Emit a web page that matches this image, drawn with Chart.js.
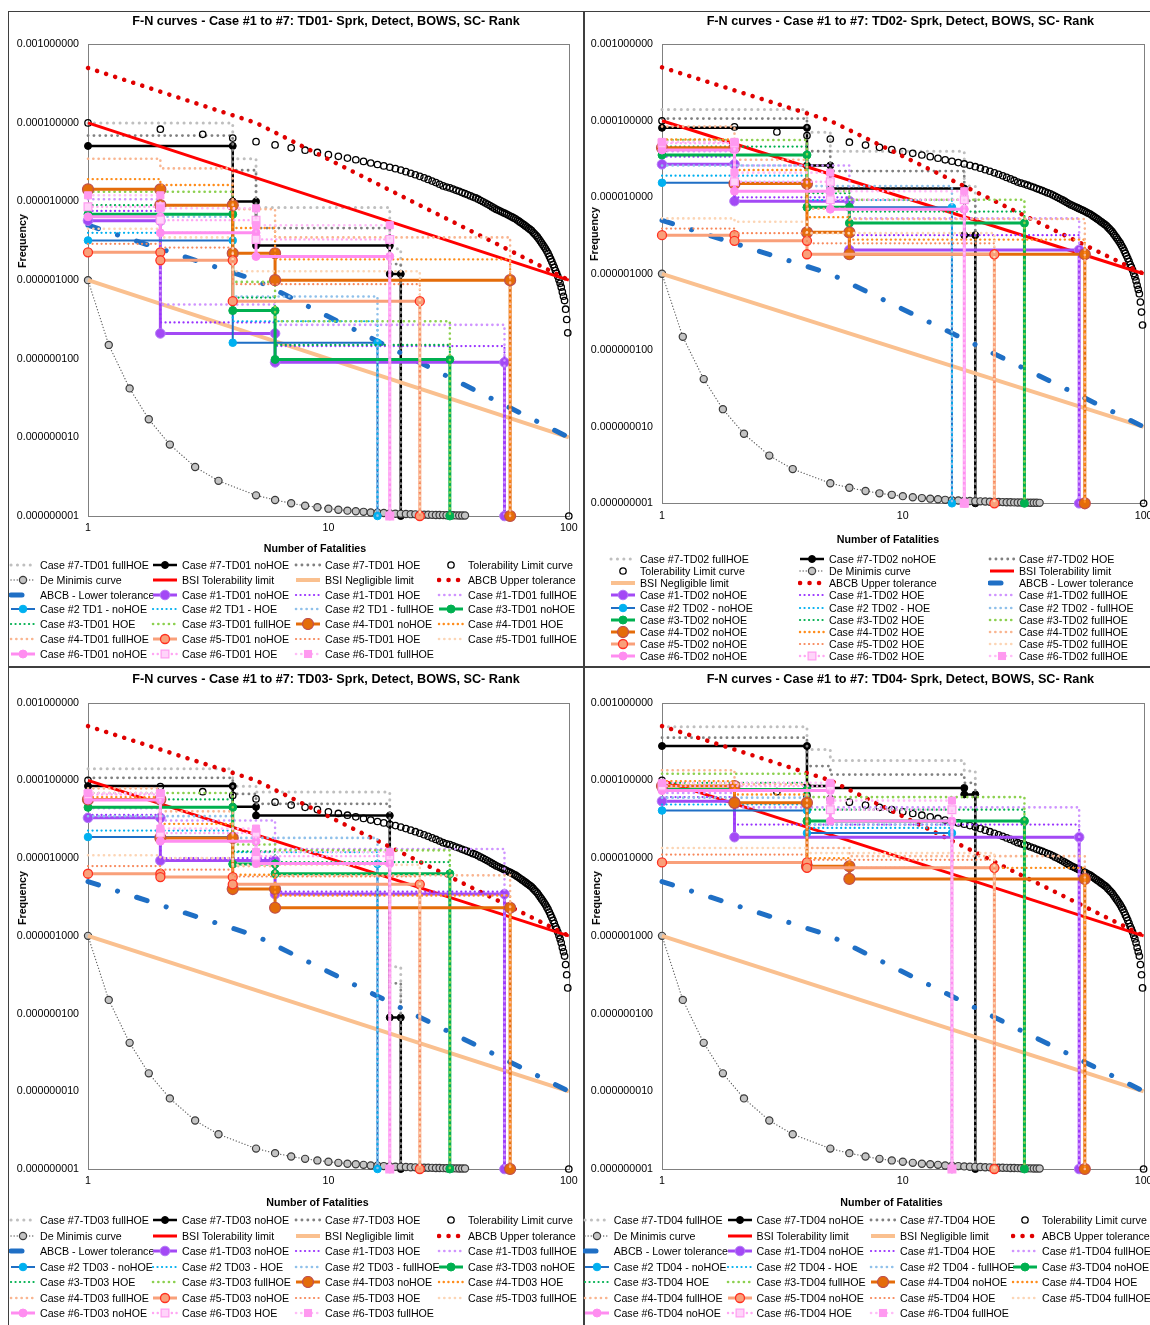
<!DOCTYPE html>
<html>
<head>
<meta charset="utf-8">
<title>F-N curves - Case #1 to #7</title>
<script src="https://cdn.jsdelivr.net/npm/chart.js@4.4.1/dist/chart.umd.min.js"></script>
<style>
  html, body { margin: 0; padding: 0; background: #fff; overflow: hidden; }
  body { position: relative; width: 1150px; height: 1325px; font-family: "Liberation Sans", Arial, sans-serif; color: #000; }
  .frame { position: absolute; border: 1px solid #3f3f3f; box-sizing: border-box; }
  canvas { position: absolute; }
  .txt { position: absolute; white-space: nowrap; transform: translate(-50%, -50%); }
  .title { font-size: 12.67px; font-weight: bold; }
  .axt { font-size: 10.67px; font-weight: bold; }
  .yt { transform: translate(-50%, -50%) rotate(-90deg); }
  .leg { position: absolute; height: 12px; line-height: 12px; font-size: 10.67px; white-space: nowrap; display: flex; align-items: center; }
  .leg svg { flex: none; margin-right: 3px; }
</style>
</head>
<body>
<script>
// ---- axes ----
const FLOOR = 1e-9;
const xTickValues = [1, 10, 100];
const yTickValues = [1e-9, 1e-8, 1e-7, 1e-6, 1e-5, 1e-4, 1e-3];

// ---- reference curves (same on all four charts) ----
const tolN = [1,2,3,4,5,6,7,8,9,10,11,12,13,14,15,16,17,18,19,20,21,22,23,24,25,26,27,28,29,30,
  31,32,33,34,35,36,37,38,39,40,41,42,43,44,45,46,47,48,49,50,51,52,53,54,55,56,57,58,59,60,
  61,62,63,64,65,66,67,68,69,70,71,72,73,74,75,76,77,78,79,80,81,82,83,84,85,86,87,88,89,90,
  91,92,93,94,95,96,97,98,99,100];
const tolF = [1.00e-4, 8.32e-5, 7.16e-5, 6.41e-5, 5.78e-5, 5.25e-5, 4.82e-5, 4.50e-5, 4.21e-5, 3.95e-5,
  3.76e-5, 3.57e-5, 3.40e-5, 3.24e-5, 3.09e-5, 2.96e-5, 2.84e-5, 2.73e-5, 2.62e-5, 2.51e-5,
  2.40e-5, 2.29e-5, 2.19e-5, 2.09e-5, 2.00e-5, 1.91e-5, 1.82e-5, 1.74e-5, 1.66e-5, 1.58e-5,
  1.53e-5, 1.49e-5, 1.44e-5, 1.39e-5, 1.35e-5, 1.30e-5, 1.26e-5, 1.22e-5, 1.18e-5, 1.14e-5,
  1.11e-5, 1.07e-5, 1.03e-5, 9.93e-6, 9.57e-6, 9.23e-6, 8.89e-6, 8.55e-6, 8.24e-6, 7.94e-6,
  7.73e-6, 7.52e-6, 7.31e-6, 7.11e-6, 6.92e-6, 6.73e-6, 6.55e-6, 6.37e-6, 6.19e-6, 6.03e-6,
  5.82e-6, 5.62e-6, 5.43e-6, 5.25e-6, 5.07e-6, 4.90e-6, 4.73e-6, 4.57e-6, 4.42e-6, 4.27e-6,
  4.07e-6, 3.89e-6, 3.72e-6, 3.55e-6, 3.35e-6, 3.16e-6, 2.99e-6, 2.82e-6, 2.66e-6, 2.51e-6,
  2.34e-6, 2.19e-6, 2.02e-6, 1.86e-6, 1.72e-6, 1.58e-6, 1.45e-6, 1.32e-6, 1.22e-6, 1.12e-6,
  1.01e-6, 9.12e-7, 8.13e-7, 7.08e-7, 6.24e-7, 5.50e-7, 4.27e-7, 3.16e-7, 2.14e-7, 1.0e-9];
const deMinN = [1, 1.22, 1.49, 1.79, 2.19, 2.79, 3.49, 5, 6, 7, 8, 9, 10, 11, 12, 13, 14, 15, 16, 17,
  18, 19, 20, 21, 22, 23, 24, 25, 26, 27, 28, 29, 30, 31, 32, 33, 34, 35, 36, 37];
const deMinF = [1e-6, 1.5e-7, 4.2e-8, 1.7e-8, 8.1e-9, 4.2e-9, 2.8e-9, 1.83e-9, 1.6e-9, 1.45e-9,
  1.35e-9, 1.29e-9, 1.24e-9, 1.2e-9, 1.17e-9, 1.15e-9, 1.13e-9, 1.11e-9, 1.10e-9, 1.09e-9,
  1.08e-9, 1.07e-9, 1.065e-9, 1.06e-9, 1.055e-9, 1.05e-9, 1.045e-9, 1.04e-9, 1.037e-9, 1.034e-9,
  1.031e-9, 1.028e-9, 1.026e-9, 1.024e-9, 1.022e-9, 1.02e-9, 1.018e-9, 1.016e-9, 1.015e-9, 1.013e-9];
const bsiTolN = [1, 100];
const bsiTolF = [1e-4, 1e-6];
const bsiNegN = [1, 100];
const bsiNegF = [1e-6, 1e-8];
const abcbUpN = [1, 5, 100];
const abcbUpF = [5e-4, 1e-4, 1e-6];
const abcbLowN = [1, 5, 100];
const abcbLowF = [5e-6, 1e-6, 1e-8];

// ---- step curves: *_N = fatality break points, other arrays = frequency of each step ----
// TD01
const td01_c7_N = [1, 4, 5, 18, 20];
const td01_c7_full = [1.0e-4, 3.5e-5, 8.4e-6, 2.5e-6];
const td01_c7_no = [5.1e-5, 1.0e-5, 2.75e-6, 1.2e-6];
const td01_c7_hoe = [6.9e-5, 2.5e-5, 4.6e-6, 1.6e-6];
const td01_c1_N = [1, 2, 6, 54];
const td01_c1_no = [5.7e-6, 2.1e-7, 9.0e-8];
const td01_c1_hoe = [7.6e-6, 2.9e-7, 1.45e-7];
const td01_c1_full = [1.07e-5, 4.9e-7, 2.7e-7];
const td01_c2_N = [1, 4, 16];
const td01_c2_no = [3.2e-6, 1.6e-7];
const td01_c2_hoe = [4.0e-6, 3.0e-7];
const td01_c2_full = [6.4e-6, 6.2e-7];
const td01_c3_N = [1, 4, 6, 32];
const td01_c3_no = [6.9e-6, 4.1e-7, 9.8e-8];
const td01_c3_hoe = [9.0e-6, 6.0e-7, 1.5e-7];
const td01_c3_full = [1.33e-5, 9.5e-7, 3.0e-7];
const td01_c4_N = [1, 2, 4, 6, 57];
const td01_c4_no = [1.43e-5, 9.0e-6, 2.2e-6, 1.0e-6];
const td01_c4_hoe = [1.93e-5, 1.62e-5, 4.6e-6, 1.84e-6];
const td01_c4_full = [3.5e-5, 2.64e-5, 8.0e-6, 3.5e-6];
const td01_c5_N = [1, 2, 4, 24];
const td01_c5_no = [2.26e-6, 1.79e-6, 5.4e-7];
const td01_c5_hoe = [2.9e-6, 2.6e-6, 8.9e-7];
const td01_c5_full = [4.5e-6, 3.5e-6, 1.3e-6];
const td01_c6_N = [1, 2, 5, 18];
const td01_c6_no = [6.4e-6, 4.0e-6, 2.0e-6];
const td01_c6_hoe = [8.6e-6, 5.8e-6, 3.3e-6];
const td01_c6_full = [1.2e-5, 8.2e-6, 5.0e-6];
// TD02
const td02_c7_N = [1, 4, 5, 18, 20];
const td02_c7_full = [1.41e-4, 7.1e-5, 4.0e-5, 1.4e-5];
const td02_c7_no = [8.1e-5, 2.6e-5, 1.3e-5, 3.2e-6];
const td02_c7_hoe = [1.07e-4, 4.0e-5, 2.2e-5, 9.0e-6];
const td02_c1_N = [1, 2, 6, 54];
const td02_c1_no = [2.7e-5, 8.9e-6, 2.05e-6];
const td02_c1_hoe = [3.4e-5, 1.0e-5, 3.2e-6];
const td02_c1_full = [4.0e-5, 2.6e-5, 5.3e-6];
const td02_c2_N = [1, 4, 16];
const td02_c2_no = [1.55e-5, 7.4e-6];
const td02_c2_hoe = [1.92e-5, 9.2e-6];
const td02_c2_full = [2.6e-5, 1.4e-5];
const td02_c3_N = [1, 4, 6, 32];
const td02_c3_no = [3.57e-5, 7.4e-6, 4.6e-6];
const td02_c3_hoe = [4.6e-5, 1.13e-5, 6.5e-6];
const td02_c3_full = [5.6e-5, 1.2e-5, 9.3e-6];
const td02_c4_N = [1, 2, 4, 6, 57];
const td02_c4_no = [4.45e-5, 1.51e-5, 3.48e-6, 1.8e-6];
const td02_c4_hoe = [5.7e-5, 2.27e-5, 5.5e-6, 2.8e-6];
const td02_c4_full = [8.4e-5, 3.1e-5, 7.1e-6, 5.2e-6];
const td02_c5_N = [1, 2, 4, 24];
const td02_c5_no = [3.2e-6, 2.7e-6, 1.8e-6];
const td02_c5_hoe = [3.9e-6, 3.4e-6, 2.5e-6];
const td02_c5_full = [5.3e-6, 4.8e-6, 3.4e-6];
const td02_c6_N = [1, 2, 5, 18];
const td02_c6_no = [4.15e-5, 1.2e-5, 7.0e-6];
const td02_c6_hoe = [5.1e-5, 1.6e-5, 9.3e-6];
const td02_c6_full = [5.3e-5, 2.1e-5, 1.2e-5];
// TD03
const td03_c7_N = [1, 4, 5, 18, 20];
const td03_c7_full = [1.41e-4, 8.4e-5, 7.1e-5, 4.0e-7];
const td03_c7_no = [8.45e-5, 4.57e-5, 3.53e-5, 8.9e-8];
const td03_c7_hoe = [1.08e-4, 6.7e-5, 5.0e-5, 2.45e-7];
const td03_c1_N = [1, 2, 6, 54];
const td03_c1_no = [3.3e-5, 9.3e-6, 3.45e-6];
const td03_c1_hoe = [3.6e-5, 1.0e-5, 3.7e-6];
const td03_c1_full = [4.4e-5, 3.05e-5, 1.31e-5];
const td03_c2_N = [1, 4, 16];
const td03_c2_no = [1.87e-5, 8.4e-6];
const td03_c2_hoe = [2.26e-5, 1.19e-5];
const td03_c2_full = [3.47e-5, 1.82e-5];
const td03_c3_N = [1, 4, 6, 32];
const td03_c3_no = [4.5e-5, 8.4e-6, 6.3e-6];
const td03_c3_hoe = [5.7e-5, 1.22e-5, 8.9e-6];
const td03_c3_full = [6.9e-5, 1.5e-5, 1.26e-5];
const td03_c4_N = [1, 2, 4, 6, 57];
const td03_c4_no = [5.7e-5, 1.82e-5, 4.0e-6, 2.3e-6];
const td03_c4_hoe = [6.1e-5, 2.76e-5, 6.1e-6, 3.3e-6];
const td03_c4_full = [7.9e-5, 4.0e-5, 7.9e-6, 6.0e-6];
const td03_c5_N = [1, 2, 4, 24];
const td03_c5_no = [6.3e-6, 5.7e-6, 4.6e-6];
const td03_c5_hoe = [7.9e-6, 7.1e-6, 5.8e-6];
const td03_c5_full = [1.09e-5, 1.0e-5, 8.2e-6];
const td03_c6_N = [1, 2, 5, 18];
const td03_c6_no = [5.6e-5, 1.65e-5, 8.5e-6];
const td03_c6_hoe = [6.6e-5, 2.1e-5, 1.06e-5];
const td03_c6_full = [6.9e-5, 2.4e-5, 1.2e-5];
// TD04
const td04_c7_N = [1, 4, 5, 18, 20];
const td04_c7_full = [4.9e-4, 2.5e-4, 1.81e-4, 1.32e-4];
const td04_c7_no = [2.77e-4, 8.45e-5, 8.0e-5, 6.6e-5];
const td04_c7_hoe = [3.55e-4, 1.53e-4, 1.19e-4, 9.3e-5];
const td04_c1_N = [1, 2, 54];
const td04_c1_no = [5.4e-5, 1.86e-5];
const td04_c1_hoe = [6.1e-5, 2.7e-5];
const td04_c1_full = [6.9e-5, 4.5e-5];
const td04_c2_N = [1, 4, 16];
const td04_c2_no = [4.1e-5, 2.1e-5];
const td04_c2_hoe = [4.9e-5, 2.45e-5];
const td04_c2_full = [6.0e-5, 2.7e-5];
const td04_c3_N = [1, 4, 32];
const td04_c3_no = [7.65e-5, 3.0e-5];
const td04_c3_hoe = [9.3e-5, 4.2e-5];
const td04_c3_full = [1.22e-4, 6.1e-5];
const td04_c4_N = [1, 2, 4, 6, 57];
const td04_c4_no = [8.45e-5, 5.15e-5, 7.85e-6, 5.4e-6];
const td04_c4_hoe = [9.8e-5, 6.6e-5, 1.0e-5, 7.5e-6];
const td04_c4_full = [1.35e-4, 8.9e-5, 1.35e-5, 1.06e-5];
const td04_c5_N = [1, 4, 24];
const td04_c5_no = [8.8e-6, 7.5e-6];
const td04_c5_hoe = [1.11e-5, 9.5e-6];
const td04_c5_full = [1.35e-5, 1.16e-5];
const td04_c6_N = [1, 5, 16];
const td04_c6_no = [7.4e-5, 3.0e-5];
const td04_c6_hoe = [8.45e-5, 4.2e-5];
const td04_c6_full = [9.3e-5, 5.5e-5];

// ---- series styles, in legend order ----
const solid = (color, width, point) => ({ color, width, dash: [], cap: 'butt', point });
const dots = (color, width, gap, point) => ({ color, width, dash: [0.1, gap], cap: 'round', point });

const styles = [
  dots('#BFBFBF', 3, 6.3),
  solid('#000000', 2.5, { r: 3.5, bg: '#000', bc: '#000', bw: 1 }),
  dots('#808080', 2.8, 5.8),
  { color: '#000', width: 0, noLine: true, dash: [], cap: 'butt', point: { r: 3.2, bg: 'rgba(255,255,255,0)', bc: '#000', bw: 1.3 } },
  { color: '#606060', width: 1.3, dash: [0.1, 3], cap: 'round', point: { r: 3.6, bg: '#c4c4c4', bc: '#3a3a3a', bw: 1.2 } },
  solid('#FF0000', 3),
  solid('#FAC08F', 4),
  dots('#E00000', 4.5, 9.4),
  { color: '#1F6FC5', width: 5, dash: [11, 20, 0.1, 20], cap: 'round' },
  solid('#A349F5', 3, { r: 4.8, bg: '#A349F5', bc: '#B27AF5', bw: 1 }),
  dots('#9933FF', 2.2, 4.4),
  dots('#CF94FF', 2.6, 5.2),
  solid('#1F6FC5', 2, { r: 3.8, bg: '#00B0F0', bc: '#00B0F0', bw: 1 }),
  dots('#00B0F0', 2.2, 4.4),
  dots('#8FC0EA', 2.6, 5.2),
  solid('#00B050', 3, { r: 4, bg: '#00B050', bc: '#00B050', bw: 1 }),
  dots('#00B050', 2.2, 4.4),
  dots('#8CD04F', 2.6, 5.2),
  solid('#E46C0A', 3, { r: 5.5, bg: '#E46C0A', bc: '#C0504D', bw: 1.2 }),
  dots('#FF8C1A', 2.4, 4.6),
  dots('#F9B590', 2.6, 5.2),
  solid('#F9A07A', 3, { r: 4.5, bg: '#F9A07A', bc: '#FF3020', bw: 1.3 }),
  dots('#F7895C', 2.2, 4.4),
  dots('#FCD5B5', 2.6, 5.2),
  solid('#FF8DF0', 3, { r: 4, bg: '#FF8DF0', bc: '#FF8DF0', bw: 1 }),
  dots('#FFA6F3', 2.4, 4.6, { r: 5.5, style: 'rect', bg: '#FFD4FA', bc: '#FF9DF0', bw: 1.2 }),
  dots('#FFBDF7', 2.6, 5.2, { r: 5, style: 'rect', bg: '#FF99F0', bc: '#FF99F0', bw: 1 })
];

// ---- page layout of the four charts ----
const panels = [
  { tag: 'TD01', tag2: 'TD1', cx: 0, cy: 0, cw: 583, ch: 560, area: [88, 569, 44.3, 516], padX: 5.3,
    frame: [8, 11, 576, 656], title: [326, 20.5], yTitle: [21.5, 241], xTitle: [315, 548],
    legX: [40, 182, 325, 468], legY: 565, legDy: 14.83,
    s: [td01_c7_N, td01_c7_full, td01_c7_no, td01_c7_hoe,
        td01_c1_N, td01_c1_no, td01_c1_hoe, td01_c1_full, td01_c2_N, td01_c2_no, td01_c2_hoe, td01_c2_full,
        td01_c3_N, td01_c3_no, td01_c3_hoe, td01_c3_full, td01_c4_N, td01_c4_no, td01_c4_hoe, td01_c4_full,
        td01_c5_N, td01_c5_no, td01_c5_hoe, td01_c5_full, td01_c6_N, td01_c6_no, td01_c6_hoe, td01_c6_full] },
  { tag: 'TD02', tag2: 'TD02', cx: 583, cy: 0, cw: 580, ch: 560, area: [79, 560.6, 44.3, 503.3], padX: 6.3,
    frame: [584, 11, 600, 656], title: [900.4, 20.5], yTitle: [594, 234], xTitle: [888, 539],
    legX: [640, 829, 1019], legY: 559, legDy: 12.15,
    s: [td02_c7_N, td02_c7_full, td02_c7_no, td02_c7_hoe,
        td02_c1_N, td02_c1_no, td02_c1_hoe, td02_c1_full, td02_c2_N, td02_c2_no, td02_c2_hoe, td02_c2_full,
        td02_c3_N, td02_c3_no, td02_c3_hoe, td02_c3_full, td02_c4_N, td02_c4_no, td02_c4_hoe, td02_c4_full,
        td02_c5_N, td02_c5_no, td02_c5_hoe, td02_c5_full, td02_c6_N, td02_c6_no, td02_c6_hoe, td02_c6_full] },
  { tag: 'TD03', tag2: 'TD03', cx: 0, cy: 665, cw: 583, ch: 560, area: [88, 569, 37.7, 504], padX: 5.3,
    frame: [8, 667, 576, 700], title: [326, 679], yTitle: [21.5, 897.5], xTitle: [317.5, 1202.3],
    legX: [40, 182, 325, 468], legY: 1220, legDy: 15.55,
    s: [td03_c7_N, td03_c7_full, td03_c7_no, td03_c7_hoe,
        td03_c1_N, td03_c1_no, td03_c1_hoe, td03_c1_full, td03_c2_N, td03_c2_no, td03_c2_hoe, td03_c2_full,
        td03_c3_N, td03_c3_no, td03_c3_hoe, td03_c3_full, td03_c4_N, td03_c4_no, td03_c4_hoe, td03_c4_full,
        td03_c5_N, td03_c5_no, td03_c5_hoe, td03_c5_full, td03_c6_N, td03_c6_no, td03_c6_hoe, td03_c6_full] },
  { tag: 'TD04', tag2: 'TD04', cx: 583, cy: 665, cw: 580, ch: 560, area: [79, 560.6, 37.7, 504], padX: 5.3,
    frame: [584, 667, 600, 700], title: [900.4, 679], yTitle: [595.7, 898], xTitle: [891.5, 1202.3],
    legX: [613.7, 756.6, 900, 1042], legY: 1220, legDy: 15.55,
    s: [td04_c7_N, td04_c7_full, td04_c7_no, td04_c7_hoe,
        td04_c1_N, td04_c1_no, td04_c1_hoe, td04_c1_full, td04_c2_N, td04_c2_no, td04_c2_hoe, td04_c2_full,
        td04_c3_N, td04_c3_no, td04_c3_hoe, td04_c3_full, td04_c4_N, td04_c4_no, td04_c4_hoe, td04_c4_full,
        td04_c5_N, td04_c5_no, td04_c5_hoe, td04_c5_full, td04_c6_N, td04_c6_no, td04_c6_hoe, td04_c6_full] }
];

Chart.defaults.font.family = '"Liberation Sans", Arial, sans-serif';
Chart.defaults.color = '#000';

// step curve: flat at each level, drop at each break point, last drop to the axis floor
function stepPoints(ns, fs) {
  const pts = [];
  for (let i = 0; i < fs.length; i++) {
    pts.push({ x: ns[i], y: fs[i] });
    pts.push({ x: ns[i + 1], y: fs[i] });
  }
  pts.push({ x: ns[ns.length - 1], y: FLOOR });
  return pts;
}
const linePoints = (ns, fs) => ns.map((n, i) => ({ x: n, y: fs[i] }));

function seriesFor(p) {
  const s = p.s, t = p.tag, t2 = p.tag2;
  const list = [
    [`Case #7-${t} fullHOE`, stepPoints(s[0], s[1])],
    [`Case #7-${t} noHOE`, stepPoints(s[0], s[2])],
    [`Case #7-${t} HOE`, stepPoints(s[0], s[3])],
    ['Tolerability Limit curve', linePoints(tolN, tolF)],
    ['De Minimis curve', linePoints(deMinN, deMinF)],
    ['BSI Tolerability limit', linePoints(bsiTolN, bsiTolF)],
    ['BSI Negligible limit', linePoints(bsiNegN, bsiNegF)],
    ['ABCB Upper tolerance', linePoints(abcbUpN, abcbUpF)],
    ['ABCB - Lower tolerance', linePoints(abcbLowN, abcbLowF)]
  ];
  for (let c = 1; c <= 6; c++) {
    const b = 4 * c;
    const name = c === 2 ? [`Case #2 ${t2} - noHOE`, `Case #2 ${t2} - HOE`, `Case #2 ${t2} - fullHOE`]
                         : [`Case #${c}-${t} noHOE`, `Case #${c}-${t} HOE`, `Case #${c}-${t} fullHOE`];
    list.push([name[0], stepPoints(s[b], s[b + 1])]);
    list.push([name[1], stepPoints(s[b], s[b + 2])]);
    list.push([name[2], stepPoints(s[b], s[b + 3])]);
  }
  return list.map(([label, data], i) => {
    const st = styles[i];
    const pt = st.point;
    return {
      label, data,
      showLine: !st.noLine,
      borderColor: st.color, backgroundColor: st.color,
      borderWidth: st.width, borderDash: st.dash, borderCapStyle: st.cap,
      pointRadius: pt ? pt.r : 0,
      pointStyle: pt && pt.style ? pt.style : 'circle',
      pointBackgroundColor: pt ? pt.bg : st.color,
      pointBorderColor: pt ? pt.bc : st.color,
      pointBorderWidth: pt ? pt.bw : 0,
      tension: 0, clip: false, order: -i
    };
  });
}

const plotBox = {
  id: 'plotBox',
  beforeDatasetsDraw(chart) {
    const { ctx, chartArea: a } = chart;
    ctx.save();
    ctx.strokeStyle = '#808080';
    ctx.lineWidth = 1;
    ctx.strokeRect(Math.round(a.left) + 0.5, Math.round(a.top) + 0.5, Math.round(a.right - a.left), Math.round(a.bottom - a.top));
    ctx.restore();
  }
};

function addText(cls, text, x, y) {
  const d = document.createElement('div');
  d.className = 'txt ' + cls;
  d.textContent = text;
  d.style.left = x + 'px';
  d.style.top = y + 'px';
  document.body.appendChild(d);
}

function swatch(st) {
  const ns = 'http://www.w3.org/2000/svg';
  const svg = document.createElementNS(ns, 'svg');
  svg.setAttribute('width', 28);
  svg.setAttribute('height', 12);
  if (!st.noLine) {
    const ln = document.createElementNS(ns, 'line');
    ln.setAttribute('x1', 2); ln.setAttribute('x2', 26);
    ln.setAttribute('y1', 6); ln.setAttribute('y2', 6);
    ln.setAttribute('stroke', st.color);
    ln.setAttribute('stroke-width', st.width);
    if (st.dash.length) ln.setAttribute('stroke-dasharray', st.dash.join(' '));
    ln.setAttribute('stroke-linecap', st.cap);
    svg.appendChild(ln);
  }
  if (st.point) {
    const pt = st.point;
    let m;
    if (pt.style === 'rect') {
      const h = pt.r * Math.SQRT1_2;
      m = document.createElementNS(ns, 'rect');
      m.setAttribute('x', 14 - h); m.setAttribute('y', 6 - h);
      m.setAttribute('width', 2 * h); m.setAttribute('height', 2 * h);
    } else {
      m = document.createElementNS(ns, 'circle');
      m.setAttribute('cx', 14); m.setAttribute('cy', 6); m.setAttribute('r', pt.r);
    }
    m.setAttribute('fill', pt.bg);
    m.setAttribute('stroke', pt.bc);
    m.setAttribute('stroke-width', pt.bw);
    svg.appendChild(m);
  }
  return svg;
}

panels.forEach(p => {
  const f = document.createElement('div');
  f.className = 'frame';
  f.style.left = p.frame[0] + 'px'; f.style.top = p.frame[1] + 'px';
  f.style.width = p.frame[2] + 'px'; f.style.height = p.frame[3] + 'px';
  document.body.appendChild(f);
});

panels.forEach(p => {
  const cv = document.createElement('canvas');
  cv.width = p.cw; cv.height = p.ch;
  cv.style.left = p.cx + 'px'; cv.style.top = p.cy + 'px';
  cv.style.width = p.cw + 'px'; cv.style.height = p.ch + 'px';
  document.body.appendChild(cv);
  const [l, r, t, b] = p.area;
  const datasets = seriesFor(p);

  new Chart(cv, {
    type: 'scatter',
    data: { datasets },
    options: {
      responsive: false,
      animation: false,
      events: [],
      layout: { padding: { left: 0, top: t, right: p.cw - r, bottom: 0 } },
      plugins: { legend: { display: false }, tooltip: { enabled: false }, title: { display: false } },
      scales: {
        x: {
          type: 'logarithmic', min: 1, max: 100,
          afterBuildTicks: s => { s.ticks = xTickValues.map(v => ({ value: v })); },
          afterFit: s => { s.height = p.ch - b; },
          grid: { display: false, drawTicks: false },
          border: { display: false },
          ticks: { padding: p.padX, font: { size: 10.67 }, color: '#000', autoSkip: false, maxRotation: 0,
                   callback: v => String(v) }
        },
        y: {
          type: 'logarithmic', min: 1e-9, max: 1e-3,
          afterBuildTicks: s => { s.ticks = yTickValues.map(v => ({ value: v })); },
          afterFit: s => { s.width = l; },
          grid: { display: false, drawTicks: false },
          border: { display: false },
          ticks: { padding: 9, font: { size: 10.67 }, color: '#000', autoSkip: false,
                   callback: v => Number(v).toFixed(9) }
        }
      }
    },
    plugins: [plotBox]
  });

  addText('title', `F-N curves - Case #1 to #7: ${p.tag}- Sprk, Detect, BOWS, SC- Rank`, p.title[0], p.title[1]);
  addText('axt yt', 'Frequency', p.yTitle[0], p.yTitle[1]);
  addText('axt', 'Number of Fatalities', p.xTitle[0], p.xTitle[1]);

  const cols = p.legX.length;
  datasets.forEach((ds, i) => {
    const col = i % cols, row = Math.floor(i / cols);
    const item = document.createElement('div');
    item.className = 'leg';
    item.style.left = (p.legX[col] - 31) + 'px';
    item.style.top = (p.legY + row * p.legDy - 6) + 'px';
    item.appendChild(swatch(styles[i]));
    const sp = document.createElement('span');
    sp.textContent = ds.label;
    item.appendChild(sp);
    document.body.appendChild(item);
  });
});
</script>
</body>
</html>
